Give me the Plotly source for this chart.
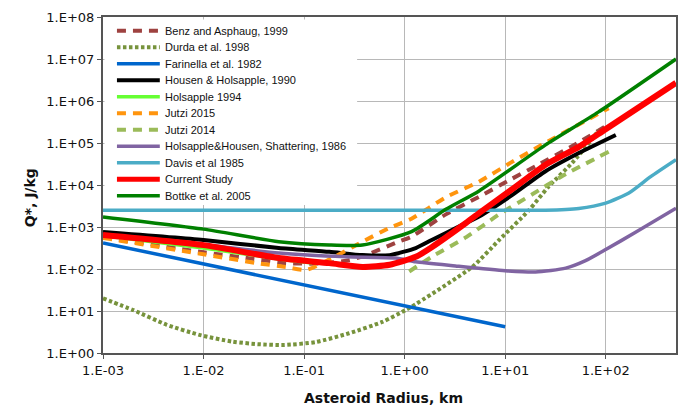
import plotly.graph_objects as go

# ---------------- data (radius in km, Q* in J/kg) ----------------
benz_r = [0.001, 0.01, 0.0316, 0.066, 0.141, 0.28, 0.41, 0.81, 1.17, 2.57, 5.5, 11.7, 20, 50, 100]
benz_q = [575, 250, 174, 138, 135, 162, 214, 417, 590, 2000, 5250, 14100, 28000, 93000, 250000]

durda_r = [0.001, 0.002, 0.0043, 0.0091, 0.0195, 0.035, 0.063, 0.13, 0.28, 0.6, 1.02, 1.17, 4.7, 8.7, 17.2, 27, 46, 72, 85]
durda_q = [20, 10.5, 4.7, 2.7, 1.86, 1.62, 1.55, 1.82, 2.95, 5.5, 10.5, 12.6, 112, 490, 2500, 9100, 33000, 117000, 204000]

farinella_r = [0.001, 0.01, 0.1, 1.0, 10.0]
farinella_q = [417, 132, 42, 13.2, 4.2]

housen_r = [0.001, 0.01, 0.056, 0.178, 0.38, 0.71, 1.29, 1.86, 4.1, 5.5, 11.7, 25, 54, 126]
housen_q = [760, 490, 316, 257, 214, 214, 316, 490, 1260, 1780, 5750, 21000, 57500, 155000]

hols94_r = [0.001, 0.01, 0.056, 0.12]
hols94_q = [620, 316, 174, 138]

jutzi15_r = [0.001, 0.01, 0.034, 0.066, 0.105, 0.19, 0.38, 0.71, 1.17, 2.57, 5.5, 11.7, 25, 107]
jutzi15_q = [550, 224, 138, 112, 95, 182, 447, 955, 1580, 5100, 12000, 35500, 100000, 676000]

jutzi14_r = [1.11, 1.86, 4.1, 8.7, 18.6, 36, 107]
jutzi14_q = [87, 195, 575, 2000, 6000, 15800, 62000]

hhshat_r = [0.001, 0.01, 0.056, 0.26, 0.81, 1.29, 3.2, 10, 20, 40, 63, 100, 200, 500]
hhshat_q = [645, 380, 240, 195, 182, 148, 118, 91, 85, 105, 158, 290, 760, 2800]

davis_r = [0.001, 0.01, 0.1, 1.0, 10, 25, 54, 100, 170, 280, 500]
davis_q = [2500, 2500, 2500, 2500, 2500, 2500, 2750, 3700, 6450, 15800, 40000]

current_r = [0.001, 0.01, 0.056, 0.178, 0.38, 0.71, 1.29, 1.86, 4.1, 5.5, 11.7, 25, 54, 100, 500]
current_q = [645, 370, 182, 138, 112, 126, 195, 330, 1260, 2140, 7900, 30000, 81000, 214000, 2700000]

bottke_r = [0.001, 0.01, 0.056, 0.178, 0.38, 1.17, 2.57, 5.5, 25, 85, 500]
bottke_q = [1740, 890, 447, 372, 372, 776, 2630, 7240, 89000, 550000, 10000000]

x_tickvals = [0.001, 0.01, 0.1, 1, 10, 100]
x_ticktext = ["1.E-03", "1.E-02", "1.E-01", "1.E+00", "1.E+01", "1.E+02"]
y_tickvals = [1, 10, 100, 1e3, 1e4, 1e5, 1e6, 1e7, 1e8]
y_ticktext = ["1.E+00", "1.E+01", "1.E+02", "1.E+03", "1.E+04", "1.E+05", "1.E+06", "1.E+07", "1.E+08"]

series = [
    dict(name="Benz and Asphaug, 1999", r=benz_r, q=benz_q, color="#9E4240", width=4, dash="9px,7px", shape="spline"),
    dict(name="Durda et al. 1998", r=durda_r, q=durda_q, color="#77933C", width=4, dash="3.5px,2.5px", shape="spline"),
    dict(name="Farinella et al. 1982", r=farinella_r, q=farinella_q, color="#0066CC", width=3.5, dash="solid", shape="linear"),
    dict(name="Housen & Holsapple, 1990", r=housen_r, q=housen_q, color="#000000", width=4, dash="solid", shape="spline"),
    dict(name="Holsapple 1994", r=hols94_r, q=hols94_q, color="#66FF33", width=3.5, dash="solid", shape="spline"),
    dict(name="Jutzi 2015", r=jutzi15_r, q=jutzi15_q, color="#FF950E", width=4, dash="9px,7px", shape="spline"),
    dict(name="Jutzi 2014", r=jutzi14_r, q=jutzi14_q, color="#9BBB59", width=4, dash="9px,7px", shape="spline"),
    dict(name="Holsapple&Housen, Shattering, 1986", r=hhshat_r, q=hhshat_q, color="#8064A2", width=3.5, dash="solid", shape="spline"),
    dict(name="Davis et al 1985", r=davis_r, q=davis_q, color="#4BACC6", width=3.5, dash="solid", shape="spline"),
    dict(name="Current Study", r=current_r, q=current_q, color="#FF0000", width=6, dash="solid", shape="spline"),
    dict(name="Bottke et al. 2005", r=bottke_r, q=bottke_q, color="#008000", width=3.5, dash="solid", shape="spline"),
]

# ---------------- figure ----------------
W, H = 681, 410
ML, MR, MT, MB = 103, 3, 17, 57
PW, PH = W - ML - MR, H - MT - MB

def px_x(p):
    return (p - ML) / PW

def px_y(p):
    return (H - MB - p) / PH

fig = go.Figure()
for s in series:
    line = dict(color=s["color"], width=s["width"], dash=s["dash"], shape=s["shape"])
    if s["shape"] == "spline":
        line["smoothing"] = 0.6
    fig.add_trace(go.Scatter(x=s["r"], y=s["q"], mode="lines", name=s["name"],
                             line=line, showlegend=False, hoverinfo="skip"))

shapes = []
annotations = []
# legend background
shapes.append(dict(type="rect", xref="paper", yref="paper",
                   x0=px_x(104.5), x1=px_x(358), y0=px_y(205), y1=px_y(19.5),
                   fillcolor="white", line=dict(width=0), layer="above"))
for i, s in enumerate(series):
    yy = 30.7 + 16.5 * i
    shapes.append(dict(type="line", xref="paper", yref="paper",
                       x0=px_x(117), x1=px_x(160), y0=px_y(yy), y1=px_y(yy),
                       line=dict(color=s["color"], width=min(s["width"], 5), dash=s["dash"]),
                       layer="above"))
    annotations.append(dict(text=s["name"], xref="paper", yref="paper",
                            x=px_x(163), y=px_y(yy), xanchor="left", yanchor="middle",
                            showarrow=False,
                            font=dict(family="Liberation Sans, Arial, sans-serif", size=11, color="#111")))

annotations.append(dict(text="<b>Asteroid Radius, km</b>", xref="paper", yref="paper",
                        x=px_x(384), y=px_y(398), xanchor="center", yanchor="middle", showarrow=False,
                        font=dict(family="DejaVu Sans", size=14, color="#111")))
annotations.append(dict(text="<b>Q*, J/kg</b>", xref="paper", yref="paper",
                        x=px_x(30), y=px_y(198), xanchor="center", yanchor="middle", showarrow=False,
                        textangle=-90,
                        font=dict(family="DejaVu Sans", size=14, color="#111")))

axis_common = dict(showgrid=True, gridcolor="#b8b8b8", gridwidth=1,
                   showline=True, mirror=True, linecolor="#555555", linewidth=2,
                   ticks="outside", ticklen=4, tickcolor="#555555", tickwidth=1,
                   tickfont=dict(family="DejaVu Sans", size=13, color="#111"),
                   zeroline=False, tickmode="array")

fig.update_xaxes(type="log", range=[-3, 2.69897], tickvals=x_tickvals, ticktext=x_ticktext, **axis_common)
fig.update_yaxes(type="log", range=[0, 8], tickvals=y_tickvals, ticktext=y_ticktext, **axis_common)

fig.update_layout(width=W, height=H, margin=dict(l=ML, r=MR, t=MT, b=MB),
                  paper_bgcolor="white", plot_bgcolor="white",
                  showlegend=False, shapes=shapes, annotations=annotations)

fig.write_html("out.html", config={"displayModeBar": False, "staticPlot": True},
               post_script="document.body.style.margin='0px';document.body.style.overflow='hidden';")
